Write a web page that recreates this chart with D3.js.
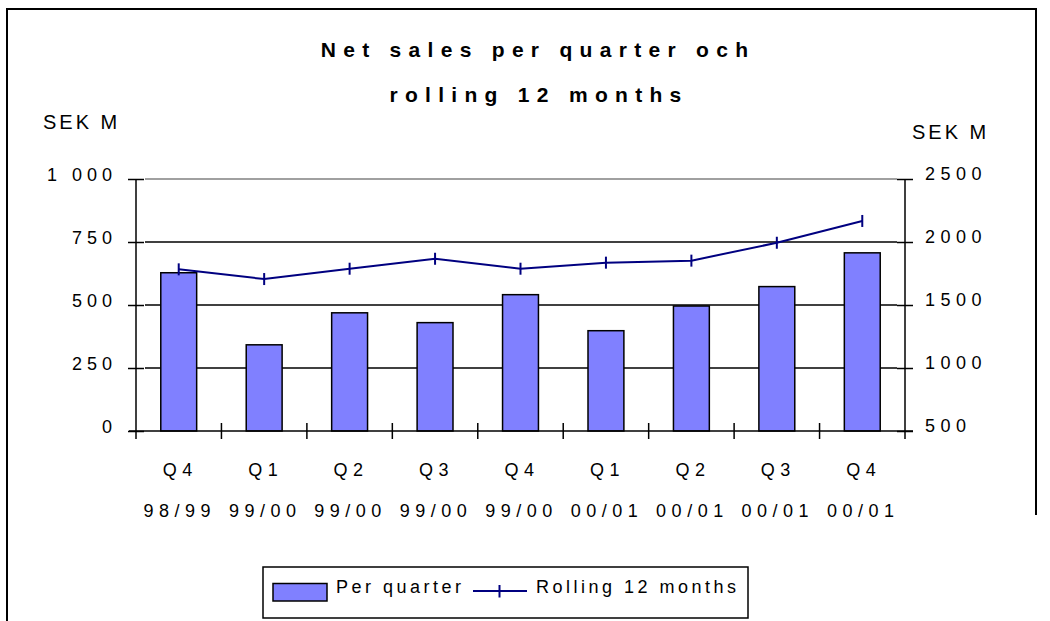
<!DOCTYPE html>
<html>
<head>
<meta charset="utf-8">
<script src="https://cdn.jsdelivr.net/npm/d3@7"></script>
<style>
  body { margin: 0; background: #fff; }
  svg text { font-family: "Liberation Sans", Arial, sans-serif; fill: #000; }
</style>
</head>
<body>
<svg id="chart" width="1050" height="621"></svg>
<script>
(function(){
  // Data
  var quarters = ['Q4', 'Q1', 'Q2', 'Q3', 'Q4', 'Q1', 'Q2', 'Q3', 'Q4'];
  var years = ['98/99', '99/00', '99/00', '99/00', '99/00', '00/01', '00/01', '00/01', '00/01'];
  var perQuarter = [628, 342, 469, 430, 541, 398, 496, 573, 707];
  var rolling12 = [1783, 1706, 1788, 1867, 1788, 1836, 1852, 1994, 2167];
  var leftTicks = [0, 250, 500, 750, 1000];
  var leftTickLabels = ['0', '250', '500', '750', '1 000'];
  var rightTicks = [500, 1000, 1500, 2000, 2500];

  var svg = d3.select('#chart');
  var idx = d3.range(quarters.length);

  // Scales
  var x = d3.scaleBand()
    .domain(idx)
    .range([136, 905])
    .paddingInner(0.58)
    .paddingOuter(0.29);
  var step = x.step();
  var yL = d3.scaleLinear().domain([0, 1000]).range([431, 179]);
  var yR = d3.scaleLinear().domain([500, 2500]).range([431, 179]);

  // Outer frame (bottom cut off)
  svg.append('path')
    .attr('d', 'M7,621 L7,9 L1036,9 L1036,515')
    .attr('fill', 'none')
    .attr('stroke', '#000')
    .attr('stroke-width', 2);

  // Title
  var title = svg.append('text')
    .attr('text-anchor', 'middle')
    .style('font-size', '21px')
    .style('font-weight', 'bold')
    .style('letter-spacing', '7.3px');
  title.append('tspan').attr('x', 538).attr('y', 57).text('Net sales per quarter och');
  title.append('tspan').attr('x', 539).attr('y', 102).text('rolling 12 months');

  svg.append('text').attr('x', 43).attr('y', 129).style('font-size', '20px')
    .style('letter-spacing', '3px').text('SEK M');
  svg.append('text').attr('x', 912).attr('y', 139).style('font-size', '20px')
    .style('letter-spacing', '3px').text('SEK M');

  // Gridlines
  svg.append('g')
    .selectAll('line')
    .data(leftTicks.slice(1))
    .enter()
    .append('line')
    .attr('x1', 145)
    .attr('x2', 897)
    .attr('y1', function(d) { return yL(d); })
    .attr('y2', function(d) { return yL(d); })
    .attr('stroke', function(d) { return d === 1000 ? '#808080' : '#000'; })
    .attr('stroke-width', 1.5);

  // Bars
  svg.append('g')
    .selectAll('rect')
    .data(perQuarter)
    .enter()
    .append('rect')
    .attr('x', function(d, i) { return x(i); })
    .attr('width', x.bandwidth())
    .attr('y', function(d) { return yL(d); })
    .attr('height', function(d) { return yL(0) - yL(d); })
    .attr('fill', '#8080ff')
    .attr('stroke', '#000')
    .attr('stroke-width', 1.5);

  // Left axis
  var leftAxis = svg.append('g')
    .attr('transform', 'translate(136,0)')
    .call(d3.axisLeft(yL)
      .tickValues(leftTicks)
      .tickFormat(function(d, i) { return leftTickLabels[i]; })
      .tickSize(8)
      .tickPadding(11));
  leftAxis.select('.domain').attr('d', 'M0,179V439').attr('stroke-width', 1.5);
  leftAxis.selectAll('.tick line').attr('x1', -8).attr('x2', 8).attr('stroke-width', 1.5);
  leftAxis.selectAll('.tick text')
    .attr('dy', 1)
    .style('font-size', '18px')
    .style('letter-spacing', '5px')
    .style('font-family', '"Liberation Sans", Arial, sans-serif');

  // Right axis
  var rightAxis = svg.append('g')
    .attr('transform', 'translate(905,0)')
    .call(d3.axisRight(yR)
      .tickValues(rightTicks)
      .tickFormat(d3.format('d'))
      .tickSize(8)
      .tickPadding(12));
  rightAxis.select('.domain').attr('d', 'M0,179V439').attr('stroke-width', 1.5);
  rightAxis.selectAll('.tick line').attr('x1', -8).attr('x2', 8).attr('stroke-width', 1.5);
  rightAxis.selectAll('.tick text')
    .attr('dy', 0)
    .style('font-size', '18px')
    .style('letter-spacing', '5.5px')
    .style('font-family', '"Liberation Sans", Arial, sans-serif');

  // Bottom axis
  var bottomAxis = svg.append('g')
    .attr('transform', 'translate(0,431)')
    .call(d3.axisBottom(x).tickSize(0).tickFormat(function() { return ''; }));
  bottomAxis.select('.domain').attr('d', 'M129,0H913').attr('stroke-width', 1.5);
  bottomAxis.selectAll('.tick text').remove();

  // Category separators
  bottomAxis.append('g')
    .selectAll('line')
    .data(idx.slice(1))
    .enter()
    .append('line')
    .attr('x1', function(i) { return x(i) - x.paddingOuter() * step; })
    .attr('x2', function(i) { return x(i) - x.paddingOuter() * step; })
    .attr('y1', -8)
    .attr('y2', 8)
    .attr('stroke', '#000')
    .attr('stroke-width', 1.5);

  var labels = bottomAxis.append('g')
    .selectAll('text')
    .data(idx)
    .enter()
    .append('text')
    .attr('text-anchor', 'middle')
    .style('font-size', '18px')
    .style('letter-spacing', '5.5px');
  labels.append('tspan')
    .attr('x', function(i) { return x(i) + x.bandwidth() / 2 + 1.5; })
    .attr('y', 45)
    .text(function(i) { return quarters[i]; });
  labels.append('tspan')
    .attr('x', function(i) { return x(i) + x.bandwidth() / 2 + 1; })
    .attr('y', 86)
    .text(function(i) { return years[i]; });

  // Rolling 12 months line
  var line = d3.line()
    .x(function(d, i) { return x(i) + x.bandwidth() / 2; })
    .y(function(d) { return yR(d); });

  svg.append('path')
    .datum(rolling12)
    .attr('d', line)
    .attr('fill', 'none')
    .attr('stroke', '#000080')
    .attr('stroke-width', 2);

  svg.append('g')
    .selectAll('line')
    .data(rolling12)
    .enter()
    .append('line')
    .attr('x1', function(d, i) { return x(i) + x.bandwidth() / 2; })
    .attr('x2', function(d, i) { return x(i) + x.bandwidth() / 2; })
    .attr('y1', function(d) { return yR(d) - 6; })
    .attr('y2', function(d) { return yR(d) + 6; })
    .attr('stroke', '#000080')
    .attr('stroke-width', 2);

  // Legend
  var legend = svg.append('g');
  legend.append('rect')
    .attr('x', 263).attr('y', 567).attr('width', 485).attr('height', 51)
    .attr('fill', '#fff').attr('stroke', '#000').attr('stroke-width', 1.5);
  legend.append('rect')
    .attr('x', 273).attr('y', 583.5).attr('width', 54).attr('height', 17.5)
    .attr('fill', '#8080ff').attr('stroke', '#000').attr('stroke-width', 1.5);
  legend.append('text')
    .attr('x', 336).attr('y', 593)
    .style('font-size', '18px').style('letter-spacing', '3.5px')
    .text('Per quarter');
  legend.append('line')
    .attr('x1', 473).attr('x2', 527).attr('y1', 591).attr('y2', 591)
    .attr('stroke', '#000080').attr('stroke-width', 2);
  legend.append('line')
    .attr('x1', 499.5).attr('x2', 499.5).attr('y1', 585).attr('y2', 597.5)
    .attr('stroke', '#000080').attr('stroke-width', 2);
  legend.append('text')
    .attr('x', 536).attr('y', 593)
    .style('font-size', '18px').style('letter-spacing', '3.5px')
    .text('Rolling 12 months');
})();
</script>
</body>
</html>
